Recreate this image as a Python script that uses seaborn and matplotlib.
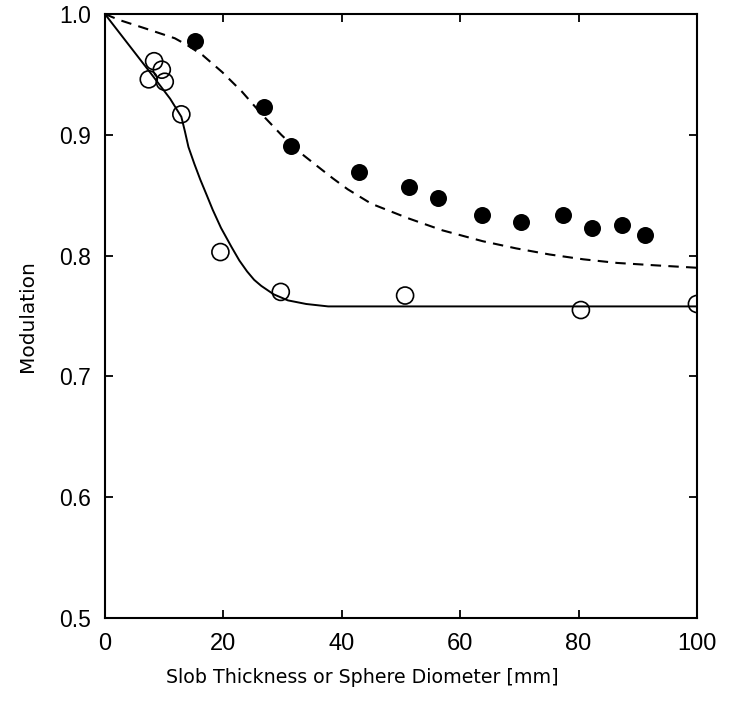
import numpy as np
import pandas as pd
import matplotlib
matplotlib.use("Agg")
import matplotlib.pyplot as plt
import seaborn as sns

# measured points, open circles (slab) and filled circles (sphere)
open_x = [7.4, 8.3, 9.6, 10.1, 12.9, 19.5, 29.7, 50.7, 80.4, 100.0]
open_y = [0.946, 0.961, 0.954, 0.944, 0.917, 0.803, 0.770, 0.767, 0.755, 0.760]

filled_x = [15.2, 26.8, 31.4, 42.9, 51.3, 56.3, 63.7, 70.3, 77.3, 82.3, 87.4, 91.3]
filled_y = [0.978, 0.923, 0.891, 0.869, 0.857, 0.848, 0.834, 0.828, 0.834, 0.823, 0.825, 0.817]

# model curves
solid_x = [0, 3.0, 7.9, 11.0, 12.9, 13.5, 14.1, 15.1, 16.1, 17.2, 18.2, 19.6, 21.4, 22.7,
           24.0, 25.2, 26.4, 28.5, 30.9, 34.0, 37.7, 50, 100]
solid_y = [1.0, 0.981, 0.950, 0.930, 0.915, 0.903, 0.890, 0.876, 0.863, 0.850, 0.838, 0.823,
           0.807, 0.796, 0.787, 0.780, 0.775, 0.768, 0.763, 0.760, 0.758, 0.758, 0.758]

dashed_x = [0, 2.5, 6.9, 11.8, 14.0, 16.5, 19.8, 23.1, 26.5, 29.8, 32.8, 35.9, 38.5, 41.0,
            45.0, 51.2, 57.0, 63.8, 69.5, 75.1, 80.8, 86.5, 93.0, 100]
dashed_y = [1.0, 0.995, 0.988, 0.980, 0.974, 0.966, 0.952, 0.936, 0.917, 0.900, 0.886, 0.874,
            0.864, 0.855, 0.843, 0.831, 0.821, 0.812, 0.806, 0.801, 0.797, 0.794, 0.792, 0.790]

x_ticks = [0, 20, 40, 60, 80, 100]
y_ticks = [0.5, 0.6, 0.7, 0.8, 0.9, 1.0]

sns.set_theme(style="ticks")
plt.rcParams['font.family'] = ['Liberation Sans', 'DejaVu Sans']

fig = plt.figure(figsize=(7.29, 7.13), dpi=100)
ax = fig.add_axes([0.144, 0.1332, 0.812, 0.847])

sns.lineplot(x=solid_x, y=solid_y, ax=ax, color='black', linewidth=1.4, sort=False)
sns.lineplot(x=dashed_x, y=dashed_y, ax=ax, color='black', linewidth=1.5,
             linestyle=(0, (5, 3.5)), sort=False)

sns.scatterplot(x=open_x, y=open_y, ax=ax, marker='o', s=150,
                facecolors='none', edgecolor='black', linewidth=1.2, zorder=3)
sns.scatterplot(x=filled_x, y=filled_y, ax=ax, marker='o', s=150,
                color='black', edgecolor='black', linewidth=0, zorder=3)

ax.set_xlim(0, 100)
ax.set_ylim(0.5, 1.0)
ax.set_xticks(x_ticks)
ax.set_yticks(y_ticks)
ax.set_xticklabels([str(t) for t in x_ticks])
ax.set_yticklabels([f"{t:.1f}" for t in y_ticks])

for s in ax.spines.values():
    s.set_visible(True)
    s.set_linewidth(1.5)
    s.set_color('black')

ax.tick_params(axis='both', direction='in', length=6, width=1.3, colors='black',
               top=True, right=True)
ax.tick_params(axis='x', pad=11, labelsize=17)
ax.tick_params(axis='y', pad=10, labelsize=16.5)

ax.set_xlabel("Slob Thickness or Sphere Diometer [mm]", fontsize=13.7,
              family=['DejaVu Sans'], color='black')
ax.set_ylabel("Modulation", fontsize=14.5, family=['DejaVu Sans'], color='black')
ax.xaxis.set_label_coords(0.434, -0.083)
ax.yaxis.set_label_coords(-0.115, 0.5)

fig.savefig("out.png", dpi=100, facecolor='white')
